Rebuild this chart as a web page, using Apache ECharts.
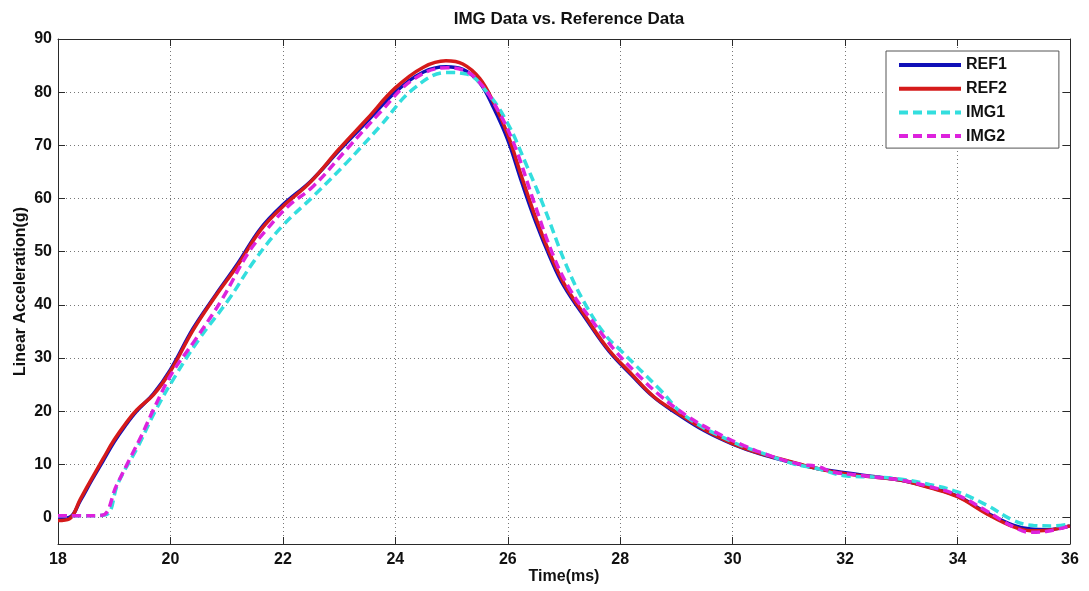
<!DOCTYPE html>
<html>
<head>
<meta charset="utf-8">
<script src="https://cdn.jsdelivr.net/npm/echarts@6/dist/echarts.min.js"></script>
<style>
html,body{margin:0;padding:0;background:#fff;}
#chart{width:1089px;height:591px;}
</style>
</head>
<body>
<div id="chart"></div>
<script>
// ---- data (time in ms, acceleration in g) ----
const ref1T = [18.0,18.2,18.4,18.6,18.8,19.0,19.2,19.4,19.7,20.0,20.4,20.8,21.2,21.6,22.0,22.5,23.0,23.5,24.0,24.5,24.9,25.2,25.5,25.75,26.0,26.25,26.5,26.75,27.0,27.4,27.8,28.2,28.6,29.0,29.5,30.0,30.5,31.0,31.5,32.0,32.5,33.0,33.5,34.0,34.5,35.0,35.3,35.6,36.0];
const ref1V = [-0.2,0,3.2,7.0,10.6,14.2,17.3,20.0,23.3,27.8,35.5,41.8,47.8,54.3,58.8,63.3,69.0,74.5,80.0,83.8,84.8,84.3,81.8,77.0,71.0,63.0,55.5,49.0,43.5,37.2,31.3,26.8,22.6,19.6,16.3,13.8,11.9,10.5,9.2,8.4,7.7,7.0,5.7,4.0,1.0,-1.5,-2.2,-2.3,-1.6];

const ref2T = [18.0,18.2,18.4,18.6,18.8,19.0,19.2,19.4,19.7,20.0,20.4,20.8,21.2,21.6,22.0,22.5,23.0,23.5,24.0,24.5,24.9,25.2,25.5,25.75,26.0,26.25,26.5,26.75,27.0,27.4,27.8,28.2,28.6,29.0,29.5,30.0,30.5,31.0,31.5,32.0,32.5,33.0,33.5,34.0,34.5,35.0,35.3,35.6,36.0];
const ref2V = [-0.6,-0.3,3.5,7.3,11.0,14.6,17.6,20.2,23.1,27.5,35.2,41.6,47.5,54.0,58.5,63.2,69.3,75.0,80.8,84.7,85.9,85.3,82.6,78.0,72.0,64.0,56.3,49.6,44.0,37.5,31.5,27.0,22.7,19.8,16.5,13.9,12.0,10.6,9.2,8.2,7.6,7.0,5.6,3.9,0.8,-1.8,-2.5,-2.4,-1.6];

const img1T = [18.0,18.5,18.85,19.07,19.43,19.73,20.08,20.5,21.03,21.5,21.98,22.54,23.13,23.73,24.32,24.92,25.27,25.63,25.99,26.34,26.64,27.05,27.4,27.76,28.0,28.71,29.18,30.0,30.5,31.08,31.5,32.03,32.5,33.0,33.5,34.0,34.52,35.0,35.35,35.7,36.0];
const img1V = [0.3,0.3,0.5,6.5,13.5,20.0,26.5,33.4,40.9,48.4,54.7,60.4,66.7,73.6,80.6,83.7,83.4,80.0,74.3,66.1,58.5,47.2,39.7,34.0,31.5,24.0,18.9,14.2,12.2,10.1,9.2,7.8,7.6,7.2,6.2,4.8,2.3,-0.6,-1.5,-1.6,-1.2];

const img2T = [18.0,18.4,18.78,19.04,19.3,19.49,19.73,20.02,20.44,20.91,21.38,21.7,22.09,22.54,23.13,23.73,24.32,24.92,25.2,25.45,25.75,26.1,26.46,26.8,27.1,27.5,27.9,28.3,28.7,29.2,29.7,30.2,30.7,31.2,31.5,31.8,32.2,32.6,33.0,33.5,34.0,34.5,35.0,35.3,35.6,36.0];
const img2V = [0.3,0.3,0.4,6.0,11.5,15.5,21.0,27.0,33.4,40.9,49.7,54.0,58.5,62.3,69.2,76.2,82.4,84.6,84.2,82.4,78.0,70.5,59.5,49.5,43.0,37.0,31.5,27.0,23.0,19.0,16.0,13.5,11.5,10.0,9.6,8.5,8.0,7.5,7.0,5.8,4.2,1.3,-1.8,-2.8,-2.6,-1.6];

const seriesNames = ['REF1','REF2','IMG1','IMG2'];
const xTicks = [18,20,22,24,26,28,30,32,34,36];
const yTicks = [0,10,20,30,40,50,60,70,80,90];

function pairs(t, v){ return t.map((x,i)=>[x, v[i]]); }

const FONT = '"Liberation Sans", Arial, sans-serif';
const AXC = '#2a2a2a';

const chart = echarts.init(document.getElementById('chart'), null, {renderer:'canvas'});
const labelStyle = {fontFamily: FONT, fontWeight:'bold', fontSize:16, color:'#111'};

chart.setOption({
  animation:false,
  backgroundColor:'#fff',
  title:{
    text:'IMG Data vs. Reference Data',
    left:564, top:6, textAlign:'center',
    textStyle:{fontFamily:FONT, fontWeight:'bold', fontSize:17, color:'#111'}
  },
  grid:{left:58, right:19, top:39, bottom:47, containLabel:false, outerBoundsMode:'none'},
  legend:{
    orient:'vertical',
    left:886, top:51,
    padding:[6,52,4,11],
    itemWidth:62, itemHeight:14, itemGap:7.7,
    borderColor:'#555', borderWidth:1,
    backgroundColor:'#fff',
    itemStyle:{opacity:0},
    lineStyle:{width:4},
    textStyle:{fontFamily:FONT, fontWeight:'bold', fontSize:16, color:'#111'},
    data:seriesNames
  },
  xAxis:[{
    type:'value', min:xTicks[0], max:xTicks[xTicks.length-1], interval:2,
    name:'Time(ms)', nameLocation:'middle', nameGap:25, nameMoveOverlap:false,
    nameTextStyle:labelStyle,
    axisLine:{show:true, onZero:false, lineStyle:{color:AXC, width:1}},
    axisTick:{show:true, inside:true, length:7, lineStyle:{color:AXC}},
    axisLabel:{...labelStyle, margin:8},
    splitLine:{show:true, lineStyle:{color:'#777', type:[1,3], width:1}}
  },{
    type:'value', position:'top', min:18, max:36, interval:2,
    axisLine:{show:true, onZero:false, lineStyle:{color:AXC, width:1}},
    axisTick:{show:true, inside:true, length:7, lineStyle:{color:AXC}},
    axisLabel:{show:false}, splitLine:{show:false}
  }],
  yAxis:[{
    type:'value', min:-5, max:90, splitNumber:10,
    name:'Linear Acceleration(g)', nameLocation:'middle', nameGap:29, nameMoveOverlap:false,
    nameTextStyle:labelStyle,
    axisLine:{show:true, onZero:false, lineStyle:{color:AXC, width:1}},
    axisTick:{show:true, inside:true, length:7, lineStyle:{color:AXC}},
    axisLabel:{...labelStyle, margin:6,
      formatter:v => (yTicks.indexOf(v) >= 0 ? String(v) : '')},
    splitLine:{show:true, lineStyle:{color:'#777', type:[1,3], width:1}}
  },{
    type:'value', position:'right', min:-5, max:90, splitNumber:10,
    axisLine:{show:true, onZero:false, lineStyle:{color:AXC, width:1}},
    axisTick:{show:true, inside:true, length:7, lineStyle:{color:AXC}},
    axisLabel:{show:false}, splitLine:{show:false}
  }],
  series:[
    {name:'REF1', type:'line', data:pairs(ref1T, ref1V), smooth:0.4, symbol:'none',
     lineStyle:{color:'#1010b8', width:3.5}, itemStyle:{color:'#1010b8'}, z:2},
    {name:'REF2', type:'line', data:pairs(ref2T, ref2V), smooth:0.4, symbol:'none',
     lineStyle:{color:'#d51a1a', width:3.5}, itemStyle:{color:'#d51a1a'}, z:3},
    {name:'IMG1', type:'line', data:pairs(img1T, img1V), smooth:0.4, symbol:'none',
     lineStyle:{color:'#33dede', width:3.5, type:[9,5]}, itemStyle:{color:'#33dede'}, z:4},
    {name:'IMG2', type:'line', data:pairs(img2T, img2V), smooth:0.4, symbol:'none',
     lineStyle:{color:'#dd22dd', width:3.5, type:[9,5]}, itemStyle:{color:'#dd22dd'}, z:5}
  ]
});
</script>
</body>
</html>
